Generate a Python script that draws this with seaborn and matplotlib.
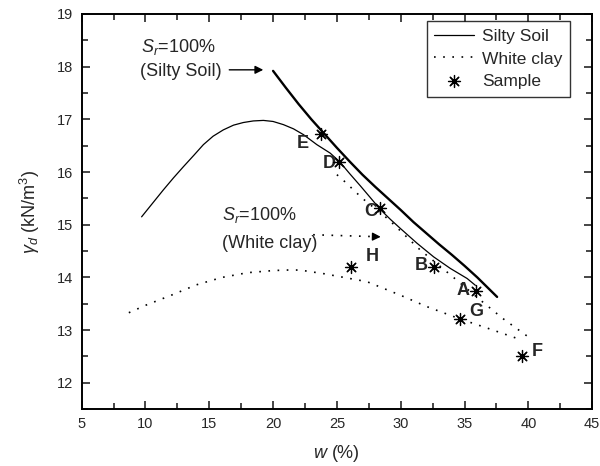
import numpy as np
import matplotlib
matplotlib.use("Agg")
import matplotlib.pyplot as plt
import seaborn as sns
from matplotlib.ticker import MultipleLocator

# Silty soil compaction curve
silty_w = [9.7, 10.5, 11.4, 12.2, 12.97, 13.8, 14.54, 15.3, 16.1, 16.9, 17.67, 18.45, 19.24, 20.0, 20.81,
           21.6, 22.38, 23.43, 24.47, 25.2, 26.0, 26.83, 27.6, 28.4, 29.2, 29.97, 31.27, 32.58, 33.89, 35.2, 35.85]
silty_g = [15.15, 15.39, 15.66, 15.89, 16.10, 16.32, 16.52, 16.68, 16.80, 16.89, 16.94, 16.97, 16.98, 16.96, 16.90,
           16.82, 16.71, 16.52, 16.36, 16.2, 15.97, 15.74, 15.52, 15.29, 15.1, 14.93, 14.65, 14.39, 14.17, 13.98, 13.85]

# Silty soil Sr=100% line
sat_silty_w = [20.0, 21, 22, 23, 24, 25, 26, 27, 28, 29, 30, 31, 32, 33, 34, 35, 36, 37.55]
sat_silty_g = [17.92, 17.6, 17.29, 17.0, 16.73, 16.46, 16.2, 15.95, 15.72, 15.5, 15.28, 15.05, 14.84, 14.63, 14.43, 14.22, 14.0, 13.63]

# White clay compaction curve
clay_w = [8.7, 10, 12, 14, 16, 18, 20, 21, 22.1, 24, 26, 27.35, 30, 32, 34.67, 37, 39.5]
clay_g = [13.33, 13.47, 13.66, 13.86, 14.0, 14.09, 14.13, 14.14, 14.14, 14.07, 13.98, 13.92, 13.66, 13.45, 13.21, 13.02, 12.81]

# White clay Sr=100% line
sat_clay_w = [25.0, 25.52, 27.0, 29.05, 31.53, 33.89, 36.24, 38.0, 40.0]
sat_clay_g = [15.95, 15.84, 15.5, 15.1, 14.52, 14.05, 13.57, 13.22, 12.87]

# Samples
sample_names = ["A", "B", "C", "D", "E", "F", "G", "H"]
sample_w = [35.93, 32.58, 28.4, 25.2, 23.75, 39.51, 34.67, 26.1]
sample_g = [13.75, 14.2, 15.31, 16.2, 16.72, 12.51, 13.21, 14.2]
label_pos = {"A": (34.87, 13.76), "B": (31.6, 14.23), "C": (27.68, 15.25), "D": (24.38, 16.17),
             "E": (22.36, 16.55), "F": (40.69, 12.6), "G": (35.91, 13.36), "H": (27.75, 14.39)}

sns.set_style("ticks")
plt.rcParams['font.family'] = ['Liberation Sans', 'DejaVu Sans']
plt.rcParams['mathtext.fontset'] = 'custom'
plt.rcParams['mathtext.rm'] = 'Liberation Sans'
plt.rcParams['mathtext.it'] = 'Liberation Sans:italic'

fig = plt.figure(figsize=(6, 4.66), dpi=100)
ax = fig.add_axes([0.136, 0.122, 0.851, 0.848])

dotted = (0, (1, 4.5))
sns.lineplot(x=silty_w, y=silty_g, sort=False, color="black", lw=0.9, ax=ax, label="Silty Soil")
sns.lineplot(x=sat_silty_w, y=sat_silty_g, sort=False, color="black", lw=1.7, ax=ax)
sns.lineplot(x=clay_w, y=clay_g, sort=False, color="black", lw=1.2, linestyle=dotted, ax=ax, label="White clay")
sns.lineplot(x=sat_clay_w, y=sat_clay_g, sort=False, color="black", lw=1.2, linestyle=dotted, ax=ax)
sns.scatterplot(x=sample_w, y=sample_g, marker=(8, 2, 0), s=75, color="black", edgecolor="black",
                linewidth=0.9, ax=ax, label="Sample", zorder=5)

for name in sample_names:
    lx, ly = label_pos[name]
    ax.text(lx, ly, name, fontsize=13, fontweight="bold", ha="center", va="center")

ax.text(9.67, 18.38, r"$S_r$=100%", fontsize=13, ha="left", va="center")
ax.text(9.57, 17.9, "(Silty Soil)", fontsize=13, ha="left", va="center")
ax.annotate("", xy=(19.45, 17.94), xytext=(16.35, 17.94),
            arrowprops=dict(arrowstyle="-|>", color="black", lw=1.0, mutation_scale=12))
ax.text(15.98, 15.18, r"$S_r$=100%", fontsize=13, ha="left", va="center")
ax.text(15.98, 14.65, "(White clay)", fontsize=13, ha="left", va="center")
ax.plot([23.14, 27.9], [14.81, 14.775], color="black", lw=1.2, linestyle=dotted)
ax.annotate("", xy=(28.65, 14.77), xytext=(27.6, 14.775),
            arrowprops=dict(arrowstyle="-|>", color="black", lw=1.0, mutation_scale=12))

ax.set_xlim(5, 45)
ax.set_ylim(11.5, 19)
ax.xaxis.set_major_locator(MultipleLocator(5))
ax.xaxis.set_minor_locator(MultipleLocator(2.5))
ax.yaxis.set_major_locator(MultipleLocator(1))
ax.yaxis.set_minor_locator(MultipleLocator(0.5))
ax.tick_params(which="both", direction="in", top=True, right=True, labelsize=10.5, width=1.2, pad=6)
ax.tick_params(which="major", length=6)
ax.tick_params(which="minor", length=4)
for sp in ax.spines.values():
    sp.set_linewidth(1.4)
    sp.set_color("black")

ax.set_xlabel(r"$w$ (%)", fontsize=13, labelpad=8)
ax.set_ylabel(r"$\gamma_d$ (kN/m$^3$)", fontsize=13, labelpad=11)

handles, labels = ax.get_legend_handles_labels()
leg = ax.legend(handles, labels, loc="upper right", bbox_to_anchor=(0.957, 0.982), fontsize=12.5,
                frameon=True, fancybox=False, edgecolor="black", handlelength=2.3, borderaxespad=0,
                labelspacing=0.42, handletextpad=0.45, borderpad=0.45)
leg.get_frame().set_linewidth(1.0)

fig.savefig("out.png", dpi=100)
